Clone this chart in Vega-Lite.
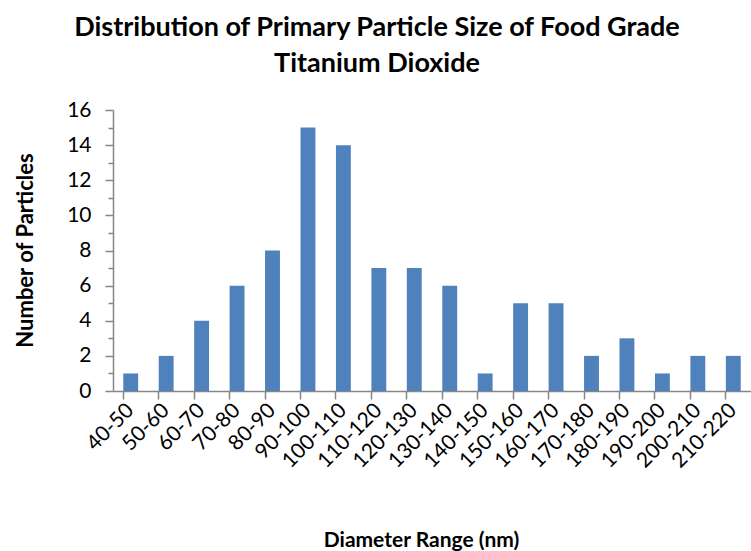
{
  "$schema": "https://vega.github.io/schema/vega-lite/v6.json",
  "autosize": "none",
  "padding": {"left": 113, "top": 110, "right": 0, "bottom": 160},
  "width": 638,
  "height": 281,
  "background": "white",
  "title": {
    "text": ["Distribution of Primary Particle Size of Food Grade", "Titanium Dioxide"],
    "font": "Lato",
    "fontSize": 27,
    "fontWeight": "bold",
    "color": "#000000",
    "lineHeight": 36,
    "anchor": "middle",
    "dx": -55,
    "offset": 21
  },
  "data": {
    "values": [
      {"range": "40-50", "count": 1},
      {"range": "50-60", "count": 2},
      {"range": "60-70", "count": 4},
      {"range": "70-80", "count": 6},
      {"range": "80-90", "count": 8},
      {"range": "90-100", "count": 15},
      {"range": "100-110", "count": 14},
      {"range": "110-120", "count": 7},
      {"range": "120-130", "count": 7},
      {"range": "130-140", "count": 6},
      {"range": "140-150", "count": 1},
      {"range": "150-160", "count": 5},
      {"range": "160-170", "count": 5},
      {"range": "170-180", "count": 2},
      {"range": "180-190", "count": 3},
      {"range": "190-200", "count": 1},
      {"range": "200-210", "count": 2},
      {"range": "210-220", "count": 2}
    ]
  },
  "mark": {"type": "bar", "color": "#4F81BD"},
  "encoding": {
    "x": {
      "field": "range",
      "type": "nominal",
      "sort": null,
      "scale": {"paddingInner": 0.58, "paddingOuter": 0.29},
      "axis": {
        "title": "Diameter Range (nm)",
        "titleFont": "Lato",
        "titleFontSize": 21,
        "titleFontWeight": "bold",
        "titleColor": "#000000",
        "titleX": 308,
        "titleY": 149,
        "titleAlign": "center",
        "titleBaseline": "middle",
        "labelAngle": -45,
        "labelAlign": "right",
        "labelBaseline": "middle",
        "labelFont": "Lato",
        "labelFontSize": 21,
        "labelColor": "#000000",
        "labelPadding": 8,
        "bandPosition": 0,
        "tickSize": 8,
        "tickColor": "#868686",
        "domainColor": "#868686",
        "tickWidth": 1.5,
        "domainWidth": 1.5,
        "grid": false
      }
    },
    "y": {
      "field": "count",
      "type": "quantitative",
      "scale": {"domain": [0, 16], "nice": false},
      "axis": {
        "title": "Number of Particles",
        "titleFont": "Lato",
        "titleFontSize": 22,
        "titleFontWeight": "bold",
        "titleColor": "#000000",
        "titleX": -88,
        "titleY": 140,
        "titleAlign": "center",
        "titleBaseline": "middle",
        "values": [0,1,2,3,4,5,6,7,8,9,10,11,12,13,14,15,16],
        "labelExpr": "datum.value % 2 === 0 ? datum.label : ''",
        "labelFont": "Lato",
        "labelFontSize": 21,
        "labelColor": "#000000",
        "labelPadding": 14,
        "tickSize": {"condition": {"test": "datum.value % 2 === 0", "value": 8}, "value": 5},
        "tickColor": "#868686",
        "domainColor": "#868686",
        "tickWidth": 1.5,
        "domainWidth": 1.5,
        "grid": false
      }
    }
  },
  "config": {"view": {"stroke": null}}
}
